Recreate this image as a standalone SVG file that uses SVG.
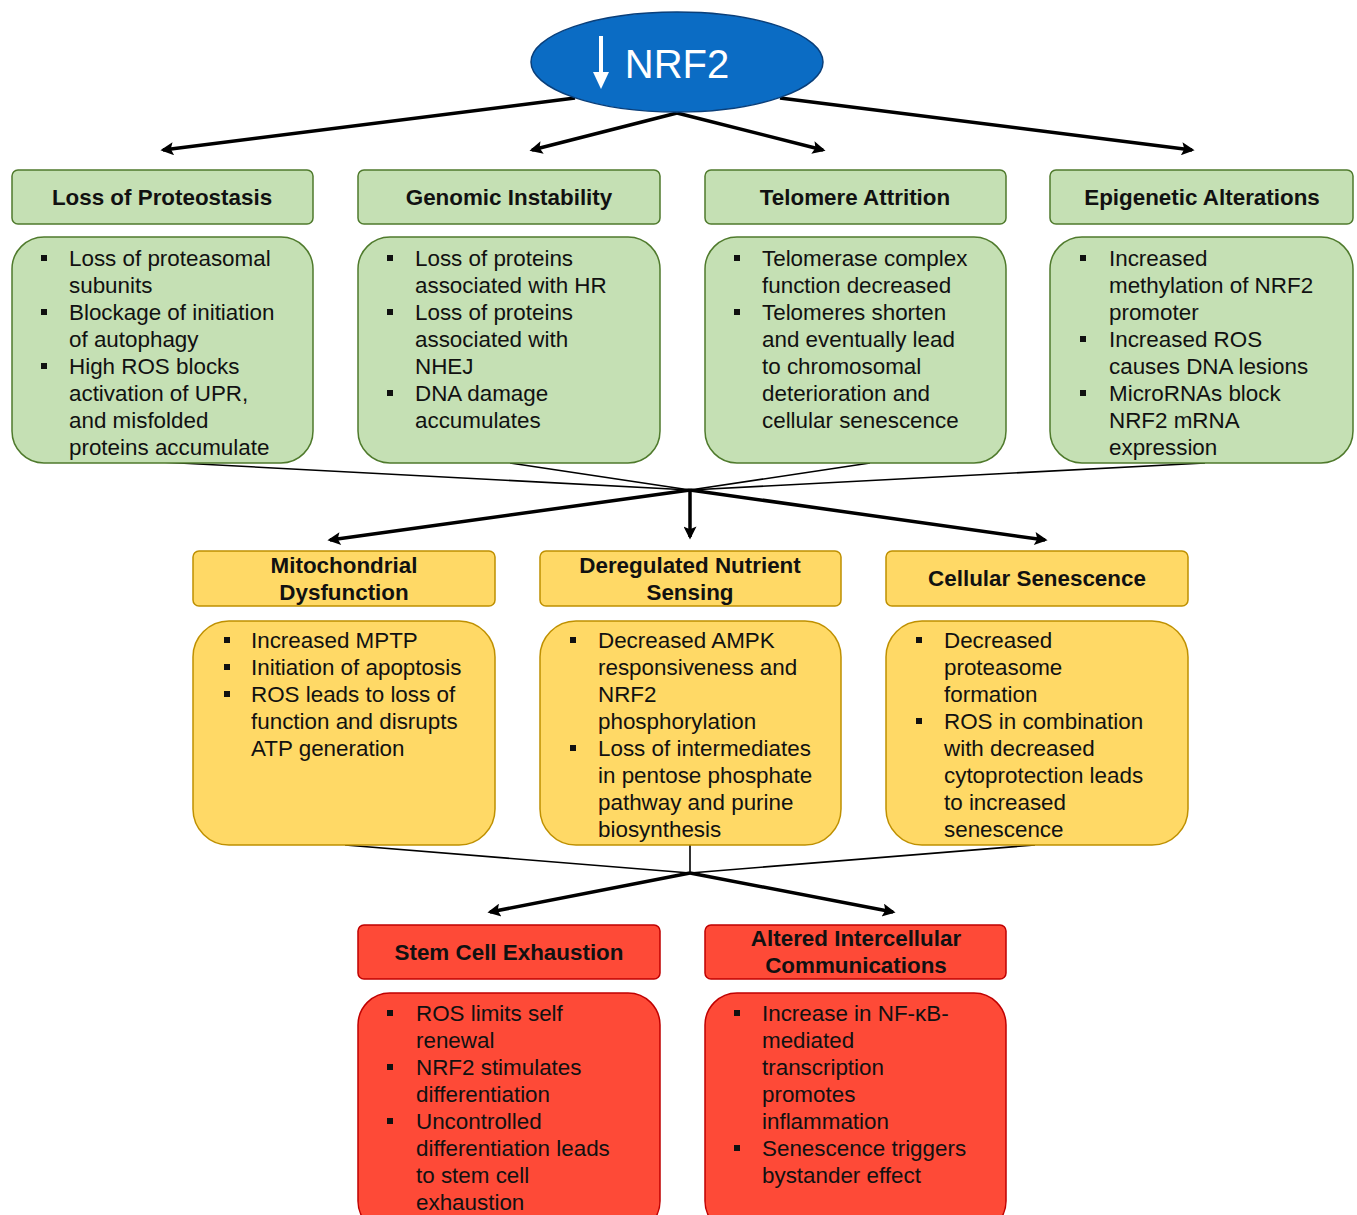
<svg xmlns="http://www.w3.org/2000/svg" width="1357" height="1215" viewBox="0 0 1357 1215">
<defs>
<style>
.hd{font-family:"Liberation Sans",Arial,sans-serif;font-weight:bold;font-size:22.4px;fill:#111;text-anchor:middle}
.bt{font-family:"Liberation Sans",Arial,sans-serif;font-size:22.4px;fill:#111}
.g{fill:#c5e0b4;stroke:#4f7a2c;stroke-width:1.5}
.y{fill:#ffd966;stroke:#bf9000;stroke-width:1.5}
.r{fill:#fe4a37;stroke:#c00000;stroke-width:1.5}
.thk{stroke:#000;stroke-width:3.5;fill:none}
.thn{stroke:#000;stroke-width:1.6;fill:none}
</style>
<marker id="ah" viewBox="0 0 10 10" markerUnits="userSpaceOnUse" markerWidth="15" markerHeight="13" refX="8" refY="5" orient="auto">
<path d="M0,0 L10,5 L0,10 L2,5 z" fill="#000"/>
</marker>
<rect id="bl" width="6" height="6" fill="#111"/>
</defs>
<rect width="1357" height="1215" fill="#fff"/>

<g id="connectors">
<path class="thk" d="M575,98 L163,150" marker-end="url(#ah)"/>
<path class="thk" d="M677,113 L532,150" marker-end="url(#ah)"/>
<path class="thk" d="M677,113 L823,150" marker-end="url(#ah)"/>
<path class="thk" d="M780,98 L1192,150" marker-end="url(#ah)"/>
<path class="thn" d="M160,462 L690,490"/>
<path class="thn" d="M510,463 L690,490"/>
<path class="thn" d="M870,463 L690,490"/>
<path class="thn" d="M1205,463 L690,490"/>
<path class="thk" d="M690,490 L330,540" marker-end="url(#ah)"/>
<path class="thk" d="M690,490 L690,537" marker-end="url(#ah)"/>
<path class="thk" d="M690,490 L1045,540" marker-end="url(#ah)"/>
<path class="thn" d="M345,845 L690,873"/>
<path class="thn" d="M690,845 L690,873"/>
<path class="thn" d="M1035,845 L690,873"/>
<path class="thk" d="M690,873 L490,912" marker-end="url(#ah)"/>
<path class="thk" d="M690,873 L893,912" marker-end="url(#ah)"/>
</g>

<g id="nrf2">
<ellipse cx="677" cy="62" rx="146" ry="50" fill="#0b6cc4" stroke="#0a3f7a" stroke-width="1.5"/>
<line x1="601" y1="36" x2="601" y2="76" stroke="#fff" stroke-width="4"/>
<path d="M593,72 L609,72 L601,89 z" fill="#fff"/>
<text x="677" y="78" font-family="Liberation Sans,Arial,sans-serif" font-size="40" fill="#fff" text-anchor="middle">NRF2</text>
</g>

<g id="loss-of-proteostasis">
<rect class="g" x="12" y="170" width="301" height="54" rx="6"/>
<text class="hd" x="162" y="205">Loss of Proteostasis</text>
<rect class="g" x="12" y="237" width="301" height="226" rx="32"/>
<use href="#bl" x="41" y="255"/><use href="#bl" x="41" y="309"/><use href="#bl" x="41" y="363"/>
<text class="bt"><tspan x="69" y="266">Loss of proteasomal</tspan><tspan x="69" y="293">subunits</tspan><tspan x="69" y="320">Blockage of initiation</tspan><tspan x="69" y="347">of autophagy</tspan><tspan x="69" y="374">High ROS blocks</tspan><tspan x="69" y="401">activation of UPR,</tspan><tspan x="69" y="428">and misfolded</tspan><tspan x="69" y="455">proteins accumulate</tspan></text>
</g>

<g id="genomic-instability">
<rect class="g" x="358" y="170" width="302" height="54" rx="6"/>
<text class="hd" x="509" y="205">Genomic Instability</text>
<rect class="g" x="358" y="237" width="302" height="226" rx="32"/>
<use href="#bl" x="387" y="255"/><use href="#bl" x="387" y="309"/><use href="#bl" x="387" y="390"/>
<text class="bt"><tspan x="415" y="266">Loss of proteins</tspan><tspan x="415" y="293">associated with HR</tspan><tspan x="415" y="320">Loss of proteins</tspan><tspan x="415" y="347">associated with</tspan><tspan x="415" y="374">NHEJ</tspan><tspan x="415" y="401">DNA damage</tspan><tspan x="415" y="428">accumulates</tspan></text>
</g>

<g id="telomere-attrition">
<rect class="g" x="705" y="170" width="301" height="54" rx="6"/>
<text class="hd" x="855" y="205">Telomere Attrition</text>
<rect class="g" x="705" y="237" width="301" height="226" rx="32"/>
<use href="#bl" x="734" y="255"/><use href="#bl" x="734" y="309"/>
<text class="bt"><tspan x="762" y="266">Telomerase complex</tspan><tspan x="762" y="293">function decreased</tspan><tspan x="762" y="320">Telomeres shorten</tspan><tspan x="762" y="347">and eventually lead</tspan><tspan x="762" y="374">to chromosomal</tspan><tspan x="762" y="401">deterioration and</tspan><tspan x="762" y="428">cellular senescence</tspan></text>
</g>

<g id="epigenetic-alterations">
<rect class="g" x="1050" y="170" width="303" height="54" rx="6"/>
<text class="hd" x="1202" y="205">Epigenetic Alterations</text>
<rect class="g" x="1050" y="237" width="303" height="226" rx="32"/>
<use href="#bl" x="1080" y="255"/><use href="#bl" x="1080" y="336"/><use href="#bl" x="1080" y="390"/>
<text class="bt"><tspan x="1109" y="266">Increased</tspan><tspan x="1109" y="293">methylation of NRF2</tspan><tspan x="1109" y="320">promoter</tspan><tspan x="1109" y="347">Increased ROS</tspan><tspan x="1109" y="374">causes DNA lesions</tspan><tspan x="1109" y="401">MicroRNAs block</tspan><tspan x="1109" y="428">NRF2 mRNA</tspan><tspan x="1109" y="455">expression</tspan></text>
</g>

<g id="mitochondrial-dysfunction">
<rect class="y" x="193" y="551" width="302" height="55" rx="6"/>
<text class="hd"><tspan x="344" y="573">Mitochondrial</tspan><tspan x="344" y="600">Dysfunction</tspan></text>
<rect class="y" x="193" y="621" width="302" height="224" rx="36"/>
<use href="#bl" x="224" y="637"/><use href="#bl" x="224" y="664"/><use href="#bl" x="224" y="691"/>
<text class="bt"><tspan x="251" y="648">Increased MPTP</tspan><tspan x="251" y="675">Initiation of apoptosis</tspan><tspan x="251" y="702">ROS leads to loss of</tspan><tspan x="251" y="729">function and disrupts</tspan><tspan x="251" y="756">ATP generation</tspan></text>
</g>

<g id="deregulated-nutrient-sensing">
<rect class="y" x="540" y="551" width="301" height="55" rx="6"/>
<text class="hd"><tspan x="690" y="573">Deregulated Nutrient</tspan><tspan x="690" y="600">Sensing</tspan></text>
<rect class="y" x="540" y="621" width="301" height="224" rx="36"/>
<use href="#bl" x="570" y="637"/><use href="#bl" x="570" y="745"/>
<text class="bt"><tspan x="598" y="648">Decreased AMPK</tspan><tspan x="598" y="675">responsiveness and</tspan><tspan x="598" y="702">NRF2</tspan><tspan x="598" y="729">phosphorylation</tspan><tspan x="598" y="756">Loss of intermediates</tspan><tspan x="598" y="783">in pentose phosphate</tspan><tspan x="598" y="810">pathway and purine</tspan><tspan x="598" y="837">biosynthesis</tspan></text>
</g>

<g id="cellular-senescence">
<rect class="y" x="886" y="551" width="302" height="55" rx="6"/>
<text class="hd" x="1037" y="586">Cellular Senescence</text>
<rect class="y" x="886" y="621" width="302" height="224" rx="36"/>
<use href="#bl" x="916" y="637"/><use href="#bl" x="916" y="718"/>
<text class="bt"><tspan x="944" y="648">Decreased</tspan><tspan x="944" y="675">proteasome</tspan><tspan x="944" y="702">formation</tspan><tspan x="944" y="729">ROS in combination</tspan><tspan x="944" y="756">with decreased</tspan><tspan x="944" y="783">cytoprotection leads</tspan><tspan x="944" y="810">to increased</tspan><tspan x="944" y="837">senescence</tspan></text>
</g>

<g id="stem-cell-exhaustion">
<rect class="r" x="358" y="925" width="302" height="54" rx="6"/>
<text class="hd" x="509" y="960">Stem Cell Exhaustion</text>
<rect class="r" x="358" y="993" width="302" height="240" rx="32"/>
<use href="#bl" x="387" y="1010"/><use href="#bl" x="387" y="1064"/><use href="#bl" x="387" y="1118"/>
<text class="bt"><tspan x="416" y="1021">ROS limits self</tspan><tspan x="416" y="1048">renewal</tspan><tspan x="416" y="1075">NRF2 stimulates</tspan><tspan x="416" y="1102">differentiation</tspan><tspan x="416" y="1129">Uncontrolled</tspan><tspan x="416" y="1156">differentiation leads</tspan><tspan x="416" y="1183">to stem cell</tspan><tspan x="416" y="1210">exhaustion</tspan></text>
</g>

<g id="altered-intercellular-communications">
<rect class="r" x="705" y="925" width="301" height="54" rx="6"/>
<text class="hd"><tspan x="856" y="946">Altered Intercellular</tspan><tspan x="856" y="973">Communications</tspan></text>
<rect class="r" x="705" y="993" width="301" height="240" rx="32"/>
<use href="#bl" x="734" y="1010"/><use href="#bl" x="734" y="1145"/>
<text class="bt"><tspan x="762" y="1021">Increase in NF-κB-</tspan><tspan x="762" y="1048">mediated</tspan><tspan x="762" y="1075">transcription</tspan><tspan x="762" y="1102">promotes</tspan><tspan x="762" y="1129">inflammation</tspan><tspan x="762" y="1156">Senescence triggers</tspan><tspan x="762" y="1183">bystander effect</tspan></text>
</g>
</svg>
